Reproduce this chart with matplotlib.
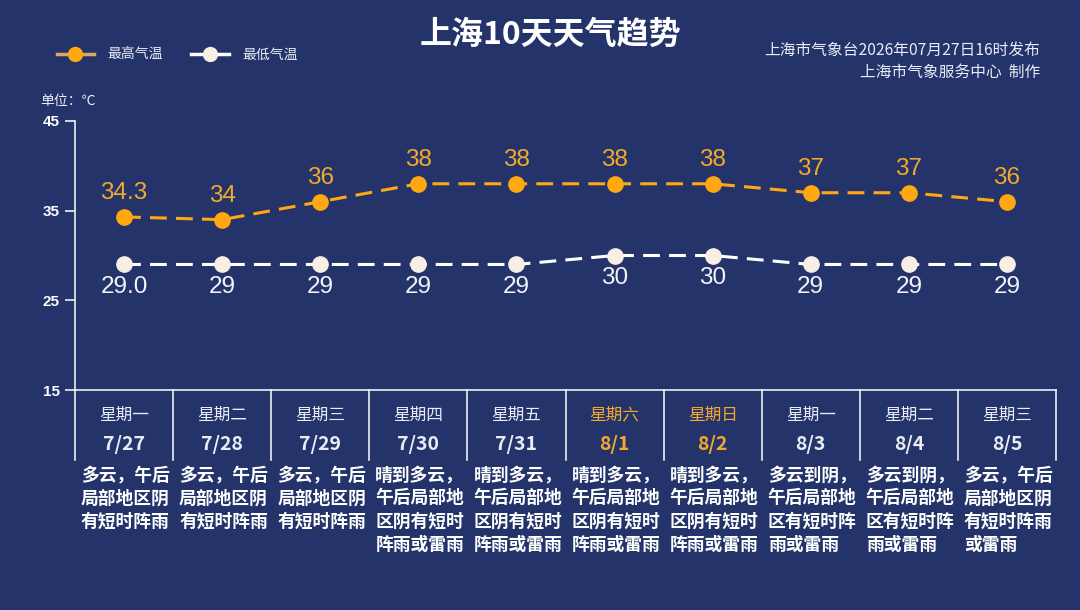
import matplotlib
matplotlib.use("Agg")
import matplotlib.pyplot as plt
from matplotlib.lines import Line2D
import matplotlib.transforms as mtransforms

CJK = ["Noto Sans CJK SC", "DejaVu Sans"]
NUM = ["Liberation Sans", "DejaVu Sans"]
plt.rcParams["font.family"] = CJK

BG = "#24346a"
ORANGE = "#ffa812"
ORANGE_TXT = "#f2a92c"
CREAM = "#f7efe4"
WHITE = "#ffffff"

# ── data ──────────────────────────────────────────────────────────────────────
weekdays = ["星期一", "星期二", "星期三", "星期四", "星期五",
            "星期六", "星期日", "星期一", "星期二", "星期三"]
dates = ["7/27", "7/28", "7/29", "7/30", "7/31", "8/1", "8/2", "8/3", "8/4", "8/5"]
t_high = [34.3, 34, 36, 38, 38, 38, 38, 37, 37, 36]
t_low = [29.0, 29, 29, 29, 29, 30, 30, 29, 29, 29]
high_labels = ["34.3", "34", "36", "38", "38", "38", "38", "37", "37", "36"]
low_labels = ["29.0", "29", "29", "29", "29", "30", "30", "29", "29", "29"]
weather = [
    "多云，午后局部地区阴有短时阵雨",
    "多云，午后局部地区阴有短时阵雨",
    "多云，午后局部地区阴有短时阵雨",
    "晴到多云，午后局部地区阴有短时阵雨或雷雨",
    "晴到多云，午后局部地区阴有短时阵雨或雷雨",
    "晴到多云，午后局部地区阴有短时阵雨或雷雨",
    "晴到多云，午后局部地区阴有短时阵雨或雷雨",
    "多云到阴，午后局部地区有短时阵雨或雷雨",
    "多云到阴，午后局部地区有短时阵雨或雷雨",
    "多云，午后局部地区阴有短时阵雨或雷雨",
]
weekend = [False, False, False, False, False, True, True, False, False, False]
x = list(range(len(dates)))

# ── figure ────────────────────────────────────────────────────────────────────
W, H = 1080, 610
fig = plt.figure(figsize=(W / 100, H / 100), dpi=100, facecolor=BG)
ax_l, ax_r, ax_t, ax_b = 75, 1056, 121, 390
ax = fig.add_axes([ax_l / W, 1 - ax_b / H, (ax_r - ax_l) / W, (ax_b - ax_t) / H])
ax.set_facecolor(BG)
ax.set_xlim(-0.5, len(x) - 0.5)
ax.set_ylim(15, 45)
ax.set_yticks([15, 25, 35, 45])
ax.set_xticks([])
for s in ["top", "right"]:
    ax.spines[s].set_visible(False)
for s in ["left", "bottom"]:
    ax.spines[s].set_color(WHITE)
    ax.spines[s].set_linewidth(1.1)
ax.tick_params(axis="y", colors=WHITE, length=7, width=1.1, pad=4)
for lab in ax.get_yticklabels():
    lab.set_fontfamily(NUM)
    lab.set_fontweight("bold")
    lab.set_fontsize(11)
    lab.set_color(WHITE)

# lines
ax.plot(x, t_high, color=ORANGE, lw=2.2, ls=(0, (5.5, 3)), marker="o",
        ms=11, mfc=ORANGE, mec=ORANGE, zorder=3)
ax.plot(x, t_low, color=WHITE, lw=2.2, ls=(0, (5.5, 3)), marker="o",
        ms=11, mfc=CREAM, mec=CREAM, zorder=3)

for xi, v, lab in zip(x, t_high, high_labels):
    ax.annotate(lab, (xi, v), xytext=(0, 17), textcoords="offset points",
                ha="center", va="center", fontsize=17.5, color=ORANGE_TXT,
                family=NUM)
for xi, v, lab in zip(x, t_low, low_labels):
    ax.annotate(lab, (xi, v), xytext=(0, -16.5), textcoords="offset points",
                ha="center", va="center", fontsize=17.5, color="#f4f4f8",
                family=NUM)

# table below the axis
trans = mtransforms.blended_transform_factory(ax.transData, ax.transAxes)
px = 1 / (ax_b - ax_t)  # one pixel in axes fraction
for k in range(len(x) + 1):
    ax.plot([k - 0.5, k - 0.5], [0, -70 * px], color=WHITE, lw=1.1,
            transform=trans, clip_on=False)

for xi in x:
    c = ORANGE_TXT if weekend[xi] else "#e8ecf4"
    ax.text(xi, -25 * px, weekdays[xi], transform=trans, ha="center", va="center",
            fontsize=12, color=c)
    ax.text(xi, -55 * px, dates[xi], transform=trans, ha="center", va="center",
            fontsize=14, fontweight="bold", color=c)
    desc = weather[xi]
    lines = [desc[i:i + 5] for i in range(0, len(desc), 5)]
    for j, line in enumerate(lines):
        ax.text(xi - 0.5 + 6 / 98, -(85 + 23.3 * j) * px, line, transform=trans,
                ha="left", va="center", fontsize=12.8, fontweight="bold",
                color=WHITE)

# header texts
fig.text(550 / W, 1 - 35 / H, "上海10天天气趋势", ha="center", va="center",
         fontsize=23, fontweight="bold", color=WHITE)
fig.text(1040 / W, 1 - 50 / H, "上海市气象台2026年07月27日16时发布", ha="right",
         va="center", fontsize=11.3, color="#e8ecf4")
fig.text(1040 / W, 1 - 72 / H, "上海市气象服务中心  制作", ha="right",
         va="center", fontsize=11.3, color="#e8ecf4")
fig.text(40 / W, 1 - 101 / H, "单位：℃", ha="left", va="center",
         fontsize=10, color="#e8ecf4")

handles = [
    Line2D([], [], color="#dca860", lw=2.5, marker="o", ms=10, mfc=ORANGE, mec=ORANGE),
    Line2D([], [], color=WHITE, lw=2.5, marker="o", ms=10, mfc=CREAM, mec=CREAM),
]
leg = fig.legend(handles, ["最高气温", "最低气温"], loc="center left",
                 bbox_to_anchor=(44 / W, 1 - 55 / H), ncol=2, frameon=False,
                 handlelength=2.7, handletextpad=1.0, columnspacing=2.0,
                 fontsize=10, numpoints=1)
for t in leg.get_texts():
    t.set_color("#e8ecf4")

fig.savefig("out.png", dpi=100, facecolor=BG)
